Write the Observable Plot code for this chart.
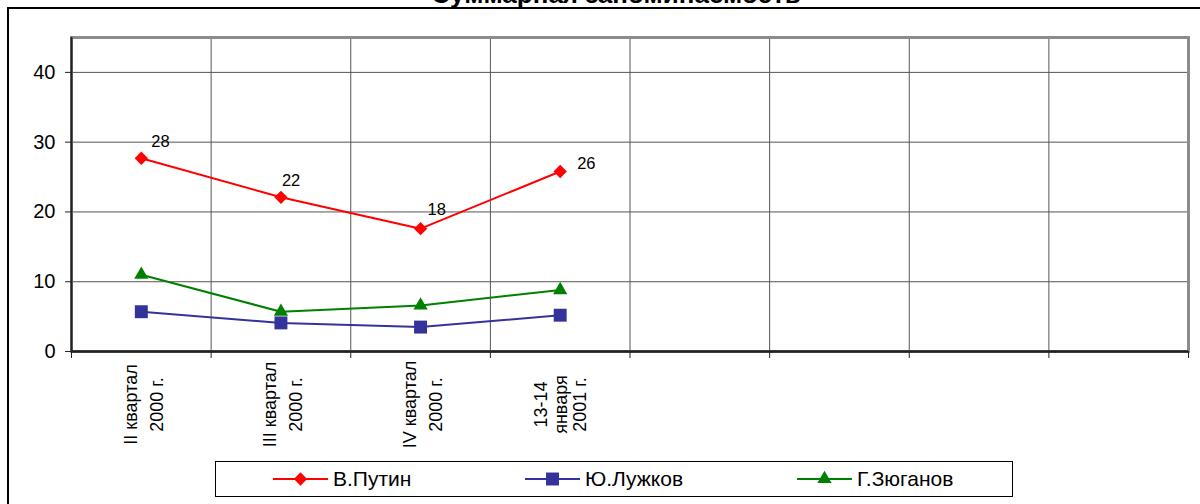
<!DOCTYPE html>
<html><head><meta charset="utf-8">
<script src="https://cdn.jsdelivr.net/npm/d3@7"></script>
<script src="https://cdn.jsdelivr.net/npm/@observablehq/plot@0.6"></script>
<style>
  html, body { margin: 0; padding: 0; background: #fff; }
  #wrap { position: relative; width: 1200px; height: 504px; overflow: hidden; background: #fff;
          font-family: Arial, "Liberation Sans", sans-serif; color: #000; }
  #frame { position: absolute; left: 7px; top: 7px; width: 1300px; height: 600px; border: 2px solid #000; }
  #title { position: absolute; left: 616px; top: -19px; transform: translateX(-50%); white-space: nowrap;
           font-size: 26px; line-height: 26px; font-weight: bold; }
  #chart { position: absolute; left: 0; top: 0; }
  #legend { position: absolute; left: 215px; top: 461px; width: 796px; height: 34px; border: 1px solid #000; background: #fff; }
  .item { position: absolute; top: 0; height: 34px; display: flex; align-items: center; font-size: 21px; }
  .item svg { margin-right: 5px; }
</style>
</head><body>
<div id="wrap">
  <div id="frame"></div>
  <div id="title"></div>
  <div id="chart"></div>
  <div id="legend"></div>
</div>
<script>
const title = "Суммарная запоминаемость";
const categories = ["II квартал\n2000 г.", "III квартал\n2000 г.", "IV квартал\n2000 г.", "13-14\nянваря\n2001 г.", "", "", "", ""];
const seriesNames = ["В.Путин", "Ю.Лужков", "Г.Зюганов"];
const putin = [27.7, 22.1, 17.6, 25.8];
const putinLabels = ["28", "22", "18", "26"];
const luzhkov = [5.7, 4.1, 3.5, 5.2];
const zyuganov = [11.0, 5.7, 6.6, 8.8];
const yTicks = [0, 10, 20, 30, 40];

const colors = ["#ff0000", "#333399", "#008000"];
const symbols = ["diamond2", "square", "triangle"];
const radii = [6.0, 7.3, 5.3];

document.getElementById("title").textContent = title;

const seriesValues = [putin, luzhkov, zyuganov];
const rows = seriesValues.flatMap((vals, s) =>
  vals.map((v, i) => ({x: i + 0.5, y: v, series: seriesNames[s], idx: i})));
const putinRows = rows.filter(d => d.series === seriesNames[0]).map((d, i) => ({...d, label: putinLabels[i]}));

const labelOffsets = [[10, -11], [1, -11], [7, -14], [17, -2]];

const catCenters = d3.range(categories.length).map(i => i + 0.5);
const twoLine = catCenters.filter(d => categories[Math.floor(d)].split("\n").length === 2);
const threeLine = catCenters.filter(d => categories[Math.floor(d)].split("\n").length === 3);
const catAxisOpts = {
  tickSize: 0, tickPadding: 53, tickRotate: -90, textAnchor: "middle", lineAnchor: "middle",
  fontSize: 18, label: null, tickFormat: d => categories[Math.floor(d)]
};

const marks = [
  Plot.ruleY(yTicks.filter(t => t > 0), {stroke: "#555", strokeWidth: 1}),
  Plot.ruleX(d3.range(1, categories.length), {stroke: "#555", strokeWidth: 1}),
  Plot.frame({stroke: "#8c8c8c", strokeWidth: 3}),
  Plot.ruleX([0], {stroke: "#222", strokeWidth: 2}),
  Plot.ruleY([0], {stroke: "#222", strokeWidth: 2.5}),
  Plot.axisY(yTicks, {tickSize: 6, tickPadding: 10, fontSize: 20, label: null, stroke: "#222"}),
  Plot.axisX(d3.range(categories.length + 1), {tickSize: 7, tickFormat: () => "", label: null, stroke: "#222"}),
  Plot.axisX(twoLine, {...catAxisOpts, lineHeight: 1.45}),
  Plot.axisX(threeLine, {...catAxisOpts, lineHeight: 1.1}),
  ...seriesNames.map((name, s) => Plot.line(rows.filter(d => d.series === name),
      {x: "x", y: "y", stroke: colors[s], strokeWidth: 2})),
  ...seriesNames.map((name, s) => Plot.dot(rows.filter(d => d.series === name),
      {x: "x", y: "y", symbol: symbols[s], r: radii[s], fill: colors[s], stroke: "none"})),
  ...labelOffsets.map(([dx, dy], i) => Plot.text(putinRows.filter(d => d.idx === i),
      {x: "x", y: "y", text: "label", dx, dy, textAnchor: "start", lineAnchor: "bottom", fontSize: 16.5, fill: "#000"}))
];

const chart = Plot.plot({
  width: 1200,
  height: 504,
  marginLeft: 71,
  marginRight: 12,
  marginTop: 37,
  marginBottom: 153,
  x: {type: "linear", domain: [0, categories.length], label: null},
  y: {domain: [0, 45], label: null},
  style: {fontFamily: 'Arial, "Liberation Sans", sans-serif', background: "transparent", color: "#000", overflow: "visible"},
  marks
});
document.getElementById("chart").appendChild(chart);

// Legend
const legend = document.getElementById("legend");
const itemLefts = [57, 309, 581];
seriesNames.forEach((name, s) => {
  const item = document.createElement("div");
  item.className = "item";
  item.style.left = itemLefts[s] + "px";
  const sw = d3.create("svg").attr("width", 55).attr("height", 20);
  sw.append("line").attr("x1", 0).attr("x2", 55).attr("y1", 10).attr("y2", 10)
    .attr("stroke", colors[s]).attr("stroke-width", 2);
  const sym = {diamond2: d3.symbolDiamond2, square: d3.symbolSquare, triangle: d3.symbolTriangle}[symbols[s]];
  sw.append("path").attr("transform", "translate(27.5,10)")
    .attr("d", d3.symbol(sym, Math.PI * radii[s] * radii[s])()).attr("fill", colors[s]);
  item.appendChild(sw.node());
  const t = document.createElement("span");
  t.textContent = name;
  item.appendChild(t);
  legend.appendChild(item);
});
</script>
</body></html>
